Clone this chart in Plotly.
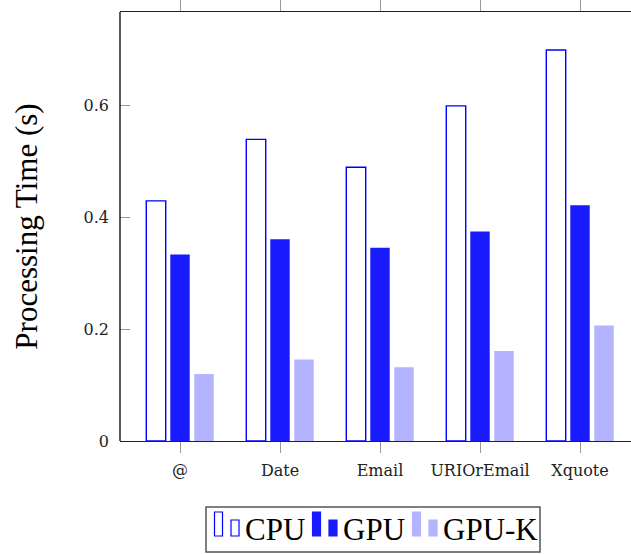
import plotly.graph_objects as go

# Benchmark data: processing time (s) per query
categories = ["@", "Date", "Email", "URIOrEmail", "Xquote"]
cpu_times = [0.43, 0.54, 0.49, 0.60, 0.70]
gpu_times = [0.334, 0.361, 0.346, 0.375, 0.422]
gpuk_times = [0.12, 0.146, 0.132, 0.161, 0.207]
series_names = ["CPU", "GPU", "GPU-K"]
y_tick_values = [0, 0.2, 0.4, 0.6]
y_tick_labels = ["0", "0.2", "0.4", "0.6"]

BLUE = "#0000ff"
GPU_FILL = "#1a1aff"
GPUK_FILL = "#b3b3ff"

W, H = 631, 554
L, R, T, B = 120, 0, 12, 113
plot_w = W - L - R
plot_h = H - T - B

TICK_FONT = dict(family="DejaVu Serif", size=16, color="#222")
BIG_FONT = dict(family="Liberation Serif", size=31, color="#000")

x_idx = list(range(len(categories)))

fig = go.Figure()
fig.add_trace(go.Bar(x=x_idx, y=cpu_times, name=series_names[0],
                     marker=dict(color="white", line=dict(color=BLUE, width=1.4))))
fig.add_trace(go.Bar(x=x_idx, y=gpu_times, name=series_names[1],
                     marker=dict(color=GPU_FILL, line=dict(width=0))))
fig.add_trace(go.Bar(x=x_idx, y=gpuk_times, name=series_names[2],
                     marker=dict(color=GPUK_FILL, line=dict(width=0))))


def px(x):
    return (x - L) / plot_w


def py(y):
    return (H - B - y) / plot_h


# Hand-built legend box with the paired bar icons
shapes = [dict(type="rect", xref="paper", yref="paper",
               x0=px(206), x1=px(540), y0=py(552), y1=py(507),
               line=dict(color="#555", width=1.5), fillcolor="white", layer="above")]
annotations = []
legend_styles = [("white", BLUE), (GPU_FILL, GPU_FILL), (GPUK_FILL, GPUK_FILL)]
icon_starts = [214, 312, 412]
for name, (fill, edge), x0 in zip(series_names, legend_styles, icon_starts):
    for dx, top in ((0, 512), (16.5, 520)):
        shapes.append(dict(type="rect", xref="paper", yref="paper",
                           x0=px(x0 + dx + 0.5), x1=px(x0 + dx + 8.5),
                           y0=py(536), y1=py(top),
                           line=dict(color=edge, width=1.2), fillcolor=fill, layer="above"))
    annotations.append(dict(text=name, xref="paper", yref="paper",
                            x=px(x0 + 29), y=py(529.5), xanchor="left", yanchor="middle",
                            showarrow=False, font=BIG_FONT))

# Left axis line drawn in black over the frame
shapes.append(dict(type="line", xref="paper", yref="paper", x0=0, x1=0, y0=0, y1=1,
                   line=dict(color="#000", width=1.3), layer="above"))

fig.update_layout(
    width=W, height=H,
    margin=dict(l=L, r=R, t=T, b=B),
    paper_bgcolor="white", plot_bgcolor="white",
    barmode="group", bargap=0.28, bargroupgap=0.19,
    showlegend=False,
    shapes=shapes,
    annotations=annotations,
    xaxis=dict(
        range=[-0.6, 4.51],
        tickmode="array", tickvals=x_idx, ticktext=categories,
        ticks="outside", ticklen=11, tickwidth=1, tickcolor="#999",
        ticklabelstandoff=4,
        showline=True, linecolor="#222", linewidth=1.3, mirror="ticks",
        showgrid=False, zeroline=False,
        tickfont=TICK_FONT,
    ),
    yaxis=dict(
        range=[0, 0.7681],
        tickmode="array", tickvals=y_tick_values, ticktext=y_tick_labels,
        ticks="inside", ticklen=10, tickwidth=1, tickcolor="#999",
        ticklabelstandoff=10,
        showline=False, showgrid=False, zeroline=False,
        tickfont=TICK_FONT,
        title=dict(text="Processing Time (s)", font=BIG_FONT, standoff=36),
    ),
)

fig.write_html("out.html")
